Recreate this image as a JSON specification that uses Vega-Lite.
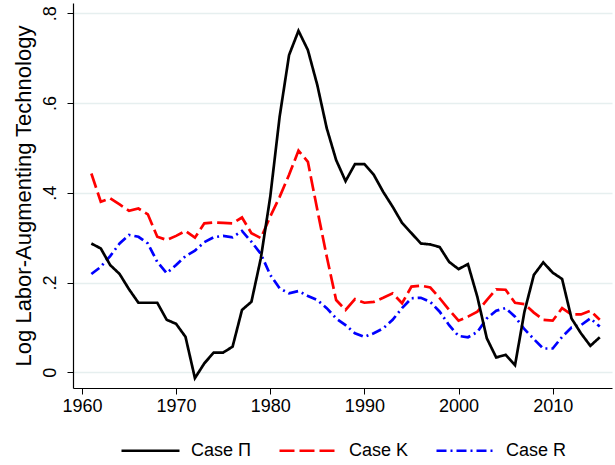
{
  "$schema": "https://vega.github.io/schema/vega-lite/v6.json",
  "width": 539,
  "height": 385,
  "autosize": "none",
  "padding": {"left": 73, "top": 3, "right": 3, "bottom": 77},
  "background": "white",
  "config": {
    "font": "Liberation Sans",
    "view": {"stroke": null},
    "axis": {"labelFont": "Liberation Sans", "titleFont": "Liberation Sans", "labelColor": "black", "titleColor": "black", "domainColor": "black", "tickColor": "black", "titleFontWeight": "normal"}
  },
  "datasets": {
    "pi": [
      {"year":1961,"v":0.287},{"year":1962,"v":0.276},{"year":1963,"v":0.239},{"year":1964,"v":0.219},{"year":1965,"v":0.185},{"year":1966,"v":0.155},{"year":1967,"v":0.155},{"year":1968,"v":0.155},{"year":1969,"v":0.117},{"year":1970,"v":0.108},
      {"year":1971,"v":0.079},{"year":1972,"v":-0.013},{"year":1973,"v":0.020},{"year":1974,"v":0.044},{"year":1975,"v":0.044},{"year":1976,"v":0.057},{"year":1977,"v":0.139},{"year":1978,"v":0.157},{"year":1979,"v":0.254},{"year":1980,"v":0.391},
      {"year":1981,"v":0.570},{"year":1982,"v":0.707},{"year":1983,"v":0.761},{"year":1984,"v":0.718},{"year":1985,"v":0.640},{"year":1986,"v":0.544},{"year":1987,"v":0.473},{"year":1988,"v":0.426},{"year":1989,"v":0.464},{"year":1990,"v":0.464},
      {"year":1991,"v":0.440},{"year":1992,"v":0.402},{"year":1993,"v":0.369},{"year":1994,"v":0.333},{"year":1995,"v":0.310},{"year":1996,"v":0.287},{"year":1997,"v":0.285},{"year":1998,"v":0.279},{"year":1999,"v":0.246},{"year":2000,"v":0.230},
      {"year":2001,"v":0.241},{"year":2002,"v":0.168},{"year":2003,"v":0.076},{"year":2004,"v":0.033},{"year":2005,"v":0.039},{"year":2006,"v":0.016},{"year":2007,"v":0.135},{"year":2008,"v":0.217},{"year":2009,"v":0.245},{"year":2010,"v":0.222},
      {"year":2011,"v":0.208},{"year":2012,"v":0.120},{"year":2013,"v":0.087},{"year":2014,"v":0.059},{"year":2015,"v":0.078}
    ],
    "k": [
      {"year":1961,"v":0.443},{"year":1962,"v":0.380},{"year":1963,"v":0.388},{"year":1964,"v":0.374},{"year":1965,"v":0.360},{"year":1966,"v":0.365},{"year":1967,"v":0.352},{"year":1968,"v":0.302},{"year":1969,"v":0.295},{"year":1970,"v":0.304},
      {"year":1971,"v":0.315},{"year":1972,"v":0.300},{"year":1973,"v":0.332},{"year":1974,"v":0.334},{"year":1975,"v":0.333},{"year":1976,"v":0.332},{"year":1977,"v":0.345},{"year":1978,"v":0.310},{"year":1979,"v":0.299},{"year":1980,"v":0.347},
      {"year":1981,"v":0.391},{"year":1982,"v":0.440},{"year":1983,"v":0.494},{"year":1984,"v":0.469},{"year":1985,"v":0.362},{"year":1986,"v":0.258},{"year":1987,"v":0.161},{"year":1988,"v":0.139},{"year":1989,"v":0.163},{"year":1990,"v":0.155},
      {"year":1991,"v":0.157},{"year":1992,"v":0.166},{"year":1993,"v":0.176},{"year":1994,"v":0.154},{"year":1995,"v":0.191},{"year":1996,"v":0.193},{"year":1997,"v":0.189},{"year":1998,"v":0.165},{"year":1999,"v":0.139},{"year":2000,"v":0.115},
      {"year":2001,"v":0.124},{"year":2002,"v":0.135},{"year":2003,"v":0.161},{"year":2004,"v":0.185},{"year":2005,"v":0.184},{"year":2006,"v":0.155},{"year":2007,"v":0.152},{"year":2008,"v":0.133},{"year":2009,"v":0.117},{"year":2010,"v":0.115},
      {"year":2011,"v":0.143},{"year":2012,"v":0.129},{"year":2013,"v":0.129},{"year":2014,"v":0.137},{"year":2015,"v":0.117}
    ],
    "r": [
      {"year":1961,"v":0.219},{"year":1962,"v":0.235},{"year":1963,"v":0.259},{"year":1964,"v":0.287},{"year":1965,"v":0.306},{"year":1966,"v":0.302},{"year":1967,"v":0.287},{"year":1968,"v":0.246},{"year":1969,"v":0.221},{"year":1970,"v":0.239},
      {"year":1971,"v":0.259},{"year":1972,"v":0.271},{"year":1973,"v":0.290},{"year":1974,"v":0.301},{"year":1975,"v":0.304},{"year":1976,"v":0.301},{"year":1977,"v":0.315},{"year":1978,"v":0.291},{"year":1979,"v":0.264},{"year":1980,"v":0.217},
      {"year":1981,"v":0.187},{"year":1982,"v":0.176},{"year":1983,"v":0.181},{"year":1984,"v":0.170},{"year":1985,"v":0.161},{"year":1986,"v":0.143},{"year":1987,"v":0.120},{"year":1988,"v":0.105},{"year":1989,"v":0.087},{"year":1990,"v":0.079},
      {"year":1991,"v":0.087},{"year":1992,"v":0.098},{"year":1993,"v":0.117},{"year":1994,"v":0.143},{"year":1995,"v":0.165},{"year":1996,"v":0.166},{"year":1997,"v":0.157},{"year":1998,"v":0.135},{"year":1999,"v":0.105},{"year":2000,"v":0.081},
      {"year":2001,"v":0.078},{"year":2002,"v":0.090},{"year":2003,"v":0.120},{"year":2004,"v":0.137},{"year":2005,"v":0.143},{"year":2006,"v":0.124},{"year":2007,"v":0.096},{"year":2008,"v":0.074},{"year":2009,"v":0.053},{"year":2010,"v":0.053},
      {"year":2011,"v":0.079},{"year":2012,"v":0.100},{"year":2013,"v":0.105},{"year":2014,"v":0.120},{"year":2015,"v":0.102}
    ]
  },
  "layer": [
    {
      "data": {"name": "r"},
      "transform": [{"calculate": "'Case R'", "as": "series"}],
      "mark": {"type": "line", "strokeWidth": 2.7, "clip": true},
      "encoding": {
        "x": {"field": "year", "type": "quantitative"},
        "y": {"field": "v", "type": "quantitative"},
        "color": {"field": "series", "type": "nominal"},
        "strokeDash": {"field": "series", "type": "nominal"}
      }
    },
    {
      "data": {"name": "k"},
      "transform": [{"calculate": "'Case K'", "as": "series"}],
      "mark": {"type": "line", "strokeWidth": 2.7, "clip": true},
      "encoding": {
        "x": {"field": "year", "type": "quantitative"},
        "y": {"field": "v", "type": "quantitative"},
        "color": {"field": "series", "type": "nominal"},
        "strokeDash": {"field": "series", "type": "nominal"}
      }
    },
    {
      "data": {"name": "pi"},
      "transform": [{"calculate": "'Case Π'", "as": "series"}],
      "mark": {"type": "line", "strokeWidth": 2.7, "clip": true},
      "encoding": {
        "x": {"field": "year", "type": "quantitative",
          "scale": {"domain": [1959.05, 2016.3], "nice": false, "zero": false},
          "axis": {"values": [1960,1970,1980,1990,2000,2010], "format": "d", "title": null, "grid": false, "labelFontSize": 18, "tickSize": 6, "labelPadding": 3, "domainWidth": 1.2}},
        "y": {"field": "v", "type": "quantitative",
          "scale": {"domain": [-0.035, 0.823], "nice": false, "zero": false},
          "axis": {"values": [0, 0.2, 0.4, 0.6, 0.8], "labelExpr": "datum.value == 0 ? '0' : replace(format(datum.value, '.1f'), '0.', '.')", "title": "Log Labor-Augmenting Technology", "titleFontSize": 22, "titlePadding": 6, "labelAngle": -90, "labelAlign": "center", "labelBaseline": "bottom", "labelFontSize": 18, "labelPadding": 8, "tickSize": 6, "grid": true, "gridColor": "#e6efef", "gridWidth": 1.5, "domainWidth": 1.2}},
        "color": {"field": "series", "type": "nominal",
          "scale": {"domain": ["Case Π", "Case K", "Case R"], "range": ["#000000", "#ff0000", "#0000ff"]},
          "legend": {"orient": "none", "legendX": 47, "legendY": 417, "padding": 0, "direction": "horizontal", "title": null, "symbolType": "stroke", "symbolSize": 3364, "symbolStrokeWidth": 2.7, "labelFontSize": 18, "labelFont": "Liberation Sans", "labelColor": "black", "columnPadding": 22, "labelOffset": 10}},
        "strokeDash": {"field": "series", "type": "nominal",
          "scale": {"domain": ["Case Π", "Case K", "Case R"], "range": [[1,0], [15,5], [10,4,2,4]]},
          "legend": null}
      }
    }
  ]
}
